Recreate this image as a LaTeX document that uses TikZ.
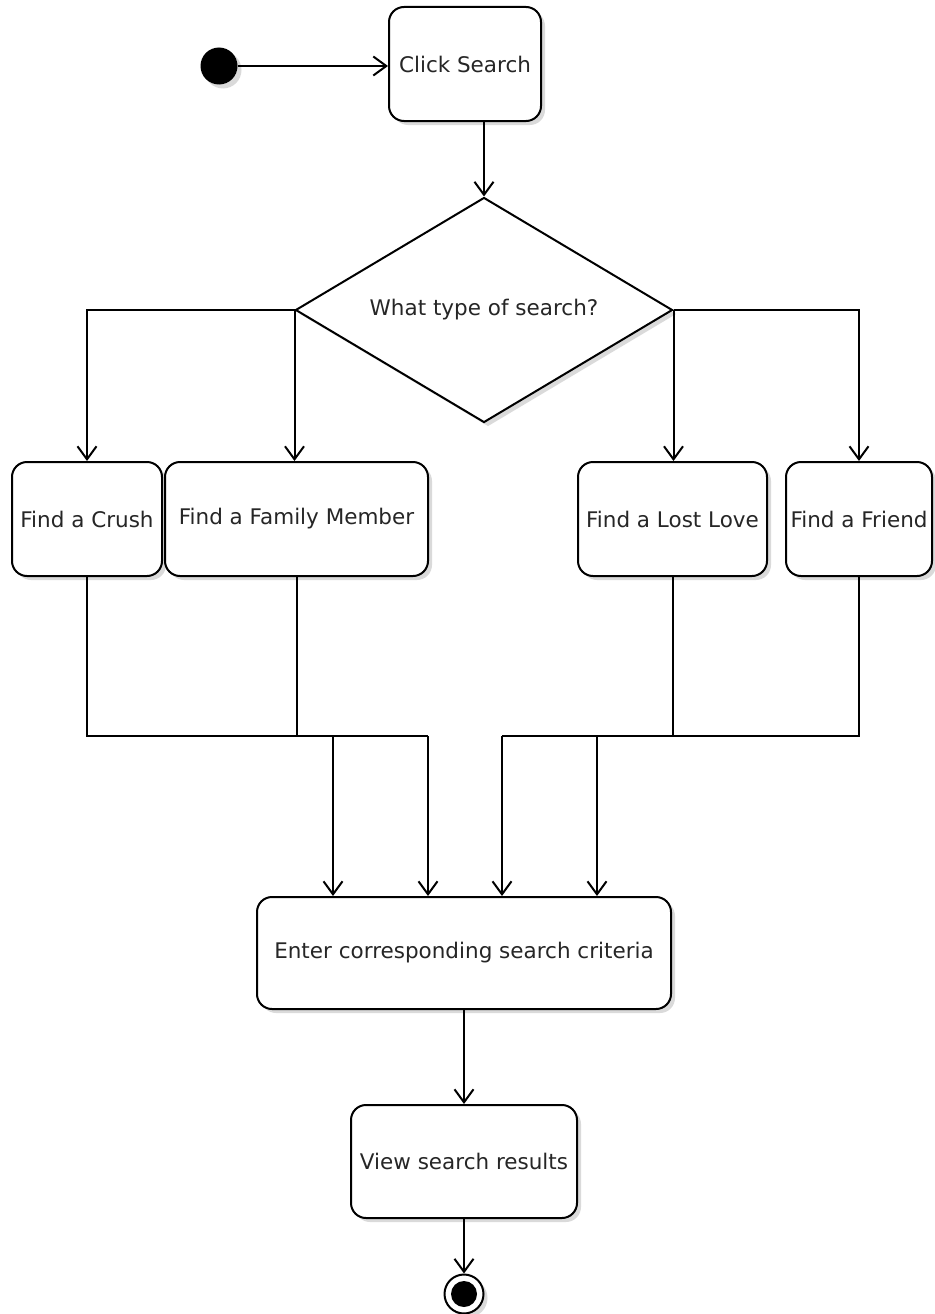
\documentclass[tikz,border=0pt]{standalone}
\usepackage{fontspec}
\setmainfont{DejaVu Sans}
\usetikzlibrary{arrows.meta,shapes.geometric,shadows}
\begin{document}
\begin{tikzpicture}[x=1pt,y=-1pt,
  font=\fontsize{21.5}{25}\selectfont,
  shad/.style={drop shadow={shadow xshift=4pt,shadow yshift=-4pt,fill=black!18,opacity=0.8}},
  actbox/.style={draw,line width=2pt,rounded corners=15pt,fill=white,inner sep=0pt,shad,text=black!85},
  flow/.style={line width=2pt,-{Straight Barb[length=13pt,width=19pt,line width=2pt]}},
  plain/.style={line width=2pt}]
\useasboundingbox (0,0) rectangle (934,1314);
% nodes
\node[circle,fill=black,minimum size=37pt,inner sep=0pt,shad] (init) at (219,66) {};
\node[actbox,minimum width=152pt,minimum height=114pt] (click) at (465,64) {Click Search};
\node[diamond,draw,line width=2pt,fill=white,inner sep=0pt,aspect=1.676,
      minimum width=377pt,minimum height=225pt,shad,text=black!85] (dec) at (484,310) {What type of search?};
\node[actbox,minimum width=150pt,minimum height=114pt] (crush) at (87,519) {Find a Crush};
\node[actbox,minimum width=263pt,minimum height=114pt] (family) at (296.5,519) {Find a Family Member};
\node[actbox,minimum width=189pt,minimum height=114pt] (lost) at (672.5,519) {Find a Lost Love};
\node[actbox,minimum width=146pt,minimum height=114pt] (friend) at (859,519) {Find a Friend};
\node[actbox,minimum width=414pt,minimum height=112pt] (enter) at (464,953) {Enter corresponding search criteria};
\node[actbox,minimum width=226pt,minimum height=113pt] (view) at (464,1161.5) {View search results};
\node[circle,draw,line width=2pt,fill=white,minimum size=39pt,inner sep=0pt,shad] (final) at (464,1294) {};
\fill (final.center) circle (13pt);
% merge points
\coordinate (m1) at (333,736);
\coordinate (m2) at (428,736);
\coordinate (m3) at (502,736);
\coordinate (m4) at (597,736);
% connectors
\draw[flow] (init.east) -- (init.east -| click.west);
\draw[flow] (click.south -| dec.north) -- (dec.north);
\draw[flow] (dec.west) -| (crush.north);
\draw[flow] (dec.west) -- (dec.west |- family.north);
\draw[flow] (dec.east) -- (dec.east |- lost.north);
\draw[flow] (dec.east) -| (friend.north);
\draw[plain] (crush.south) |- (m1);
\draw[plain] (family.south) |- (m2);
\draw[plain] (lost.south) |- (m3);
\draw[plain] (friend.south) |- (m4);
\draw[flow] (m1) -- (m1 |- enter.north);
\draw[flow] (m2) -- (m2 |- enter.north);
\draw[flow] (m3) -- (m3 |- enter.north);
\draw[flow] (m4) -- (m4 |- enter.north);
\draw[flow] (enter.south) -- (view.north);
\draw[flow] (view.south) -- (final.north);
\end{tikzpicture}
\end{document}
